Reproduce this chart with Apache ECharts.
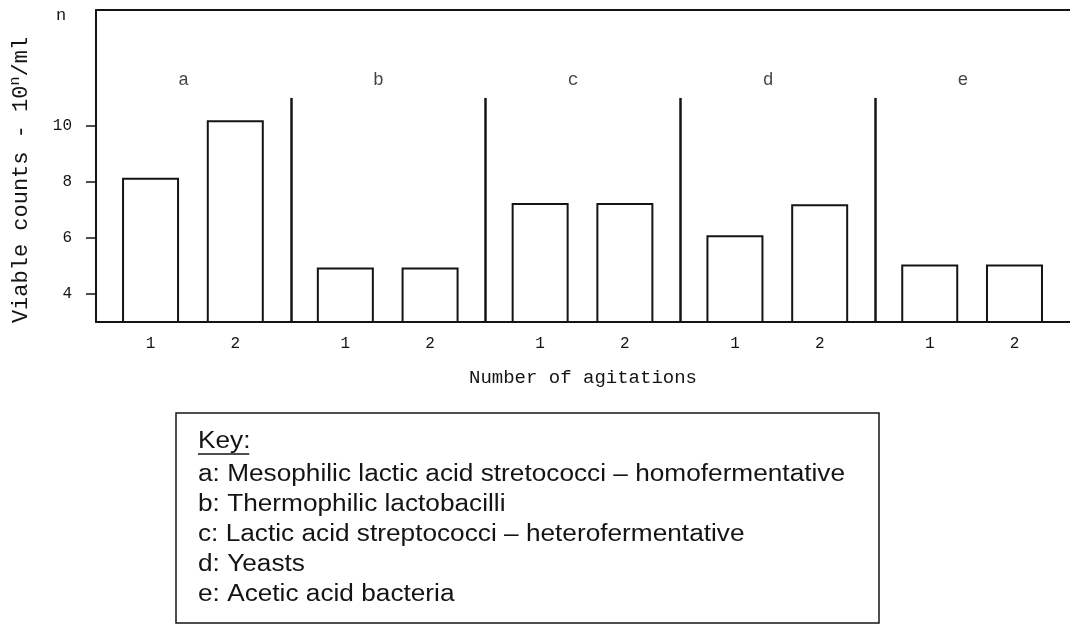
<!DOCTYPE html>
<html>
<head>
<meta charset="utf-8">
<script src="https://cdn.jsdelivr.net/npm/echarts@6/dist/echarts.min.js"></script>
<style>
  html, body { margin: 0; padding: 0; background: #fff; }
  #chart { width: 1070px; height: 625px; }
</style>
</head>
<body>
<div id="chart"></div>
<script>
// data
const groups = ['a', 'b', 'c', 'd', 'e']
const agitations = ['1', '2']
const countsFirst = [8.15, 4.95, 7.25, 6.1, 5.05]
const countsSecond = [10.2, 4.95, 7.25, 7.2, 5.05]
const yTicks = [4, 6, 8, 10]
const keyLines = [
  'a: Mesophilic lactic acid stretococci \u2013 homofermentative',
  'b: Thermophilic lactobacilli',
  'c: Lactic acid streptococci \u2013 heterofermentative',
  'd: Yeasts',
  'e: Acetic acid bacteria'
]

const ink = '#141414'
const mono = '"Liberation Mono", "DejaVu Sans Mono", monospace'
const sans = '"Liberation Sans", Arial, sans-serif'
const slot = [0.28, 0.715]   // bar centres inside each group
const dividerTop = 11

const barData = []
const labelPos = []
groups.forEach((g, i) => {
  const vals = [countsFirst[i], countsSecond[i]]
  vals.forEach((v, j) => {
    barData.push([i + slot[j], v])
    labelPos.push(i + slot[j])
  })
})

const dividers = groups.slice(1).map((g, i) => [
  { coord: [i + 1, 3] },
  { coord: [i + 1, dividerTop] }
])

const letterData = groups.map((g, i) => [i + 0.45, 11.65, g])

const chart = echarts.init(document.getElementById('chart'), null, { renderer: 'canvas' })

chart.setOption({
  animation: false,
  backgroundColor: '#fff',
  grid: { left: 96, right: 0, top: 10, bottom: 303, containLabel: false },
  xAxis: [
    {
      type: 'value',
      min: 0,
      max: groups.length,
      name: 'Number of agitations',
      nameLocation: 'middle',
      nameGap: 46,
      nameTextStyle: { fontFamily: mono, fontSize: 19, color: ink },
      splitLine: { show: false },
      axisLine: { show: true, lineStyle: { color: ink, width: 2 } },
      axisTick: { show: false },
      axisLabel: {
        customValues: labelPos,
        margin: 14,
        fontFamily: mono,
        fontSize: 16,
        color: ink,
        formatter: v => agitations[(v - Math.floor(v)) < 0.5 ? 0 : 1]
      }
    },
    {
      type: 'value',
      position: 'top',
      min: 0,
      max: groups.length,
      splitLine: { show: false },
      axisLine: { show: true, lineStyle: { color: ink, width: 2 } },
      axisTick: { show: false },
      axisLabel: { show: false }
    }
  ],
  yAxis: {
    type: 'value',
    min: 3,
    max: 14.14,
    name: 'Viable counts - 10{sup|n}/ml',
    nameLocation: 'middle',
    nameRotate: 90,
    nameGap: 62,
    nameTextStyle: {
      fontFamily: mono,
      fontSize: 22,
      color: ink,
      padding: [0, 28, 0, 0],
      rich: {
        sup: { fontFamily: mono, fontSize: 15, color: ink, verticalAlign: 'bottom', padding: [0, 0, 11, 0] }
      }
    },
    splitLine: { show: false },
    axisLine: { show: true, lineStyle: { color: ink, width: 2 } },
    axisTick: { show: true, customValues: yTicks, length: 10, lineStyle: { color: ink, width: 1.5 } },
    axisLabel: { customValues: yTicks, margin: 24, fontFamily: mono, fontSize: 16, color: ink }
  },
  series: [
    {
      name: 'Viable counts',
      type: 'bar',
      barWidth: 57,
      data: barData,
      itemStyle: { color: '#fff', borderColor: ink, borderWidth: 2 },
      silent: true,
      markLine: {
        silent: true,
        symbol: 'none',
        label: { show: false },
        lineStyle: { color: ink, width: 2.5, type: 'solid' },
        data: dividers
      }
    },
    {
      name: 'groups',
      type: 'scatter',
      symbolSize: 1,
      itemStyle: { color: 'rgba(0,0,0,0)' },
      data: letterData,
      silent: true,
      label: {
        show: true,
        position: 'inside',
        formatter: p => p.value[2],
        fontFamily: mono,
        fontSize: 18,
        color: ink
      }
    }
  ],
  graphic: [
    {
      type: 'text',
      x: 56,
      y: 7,
      style: { text: 'n', font: '17px ' + mono, fill: ink }
    },
    {
      type: 'rect',
      shape: { x: 176, y: 413, width: 703, height: 210 },
      style: { fill: 'none', stroke: ink, lineWidth: 1.5 }
    },
    {
      // key text is set a little wider than the font's normal proportions
      type: 'group',
      x: 198,
      y: 0,
      scaleX: 1.14,
      children: [
        {
          type: 'text',
          x: 0,
          y: 442,
          style: { text: 'Key:', font: '23px ' + sans, fill: ink, verticalAlign: 'middle' }
        },
        {
          type: 'line',
          shape: { x1: 0, y1: 454, x2: 45, y2: 454 },
          style: { stroke: ink, lineWidth: 1.5 }
        },
        ...keyLines.map((t, i) => ({
          type: 'text',
          x: 0,
          y: 475 + i * 30,
          style: { text: t, font: '23px ' + sans, fill: ink, verticalAlign: 'middle' }
        }))
      ]
    }
  ]
})

window.addEventListener('resize', () => chart.resize())
</script>
</body>
</html>
